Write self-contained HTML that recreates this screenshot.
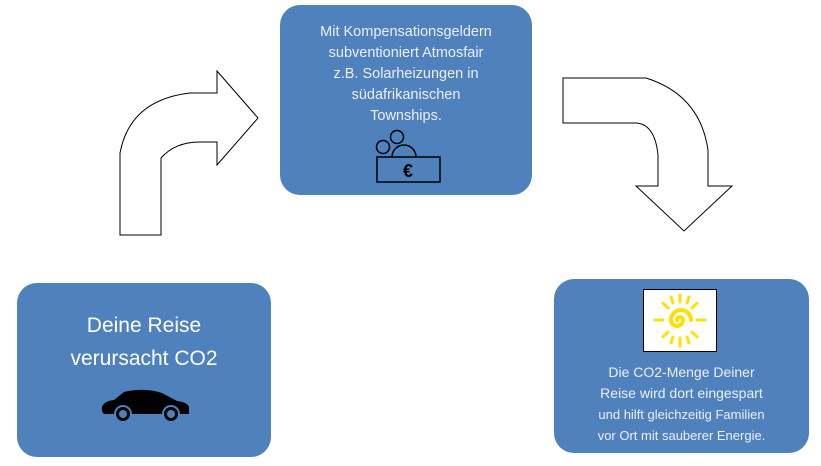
<!DOCTYPE html>
<html><head><style>
body{margin:0;width:821px;height:466px;background:#fff;position:relative;overflow:hidden;font-family:"Liberation Sans",sans-serif;}
.b{position:absolute;background:#4f81bd;border-radius:20px;color:#fff;text-align:center;}
</style></head><body>
<svg width="821" height="466" style="position:absolute;left:0;top:0">
<path d="M120,235 L161,235 L161,158 Q175,142 200,142 L217,142 L217,165 L258,118 L217,71 L217,93 L190,93 Q130,100 120,153 Z" fill="#fff" stroke="#000" stroke-width="1"/>
<path d="M563,78 L646,78 Q700,95 708,150 L708,186 L732,186 L684,231 L636,186 L658,186 L658,155 Q655,125 637,123 L563,123 Z" fill="#fff" stroke="#000" stroke-width="1"/>
</svg>
<div class="b" style="left:280px;top:5px;width:252px;height:190px;">
<div style="margin-top:17px;font-size:14.5px;line-height:21px;color:#eef">Mit Kompensationsgeldern<br>subventioniert Atmosfair<br>z.B. Solarheizungen in<br>südafrikanischen<br>Townships.</div>
<svg width="80" height="60" style="position:absolute;left:90px;top:121px">
<circle cx="13" cy="21" r="6.5" fill="none" stroke="#000" stroke-width="1.5"/>
<circle cx="27" cy="11" r="6.5" fill="none" stroke="#000" stroke-width="1.5"/>
<path d="M22,31 A12,12 0 0 1 46,31" fill="none" stroke="#000" stroke-width="1.5"/>
<rect x="7" y="31" width="63" height="25" fill="none" stroke="#000" stroke-width="1.5"/>
<text x="38" y="51" text-anchor="middle" font-size="18" font-weight="bold" fill="#000" font-family="Liberation Sans">€</text>
</svg>
</div>
<div class="b" style="left:17px;top:283px;width:254px;height:174px;">
<div style="margin-top:26px;font-size:21px;line-height:33px;">Deine Reise<br>verursacht CO2</div>
<svg width="95" height="40" style="position:absolute;left:82px;top:106px">
<path d="M3,18 Q5,12 15,11 L25,3 Q45,-2 63,4 L78,12 Q88,13 90,18 L90,25 L6,25 Q2,24 3,18 Z" fill="#000"/>
<circle cx="24" cy="25" r="8" fill="#000" stroke="#4f81bd" stroke-width="2"/>
<circle cx="72" cy="25" r="8" fill="#000" stroke="#4f81bd" stroke-width="2"/>
<circle cx="24" cy="25" r="4" fill="#4f81bd"/>
<circle cx="72" cy="25" r="4" fill="#4f81bd"/>
</svg>
</div>
<div class="b" style="left:554px;top:279px;width:255px;height:174px;">
<div style="position:absolute;left:89px;top:10px;width:72px;height:61px;background:#fff;border:1px solid #000;">
<svg width="72" height="61"><g stroke="#ffe000" stroke-width="4" fill="none" stroke-linecap="round">
<path d="M36,30 m-3,0 a3,3 0 1 1 6,0 a6,6 0 1 1 -12,0 a10,10 0 1 1 20,0"/>
<g stroke-width="3"><line x1="36" y1="5" x2="36" y2="12"/><line x1="36" y1="48" x2="36" y2="56"/><line x1="11" y1="30" x2="19" y2="30"/><line x1="53" y1="30" x2="61" y2="30"/><line x1="19" y1="13" x2="24" y2="18"/><line x1="48" y1="42" x2="53" y2="47"/><line x1="53" y1="13" x2="48" y2="18"/><line x1="19" y1="47" x2="24" y2="42"/><line x1="27" y1="7" x2="29" y2="13"/><line x1="45" y1="7" x2="43" y2="13"/><line x1="27" y1="53" x2="29" y2="47"/><line x1="45" y1="53" x2="43" y2="47"/></g></g></svg>
</div>
<div style="position:absolute;top:83px;width:100%;font-size:14px;line-height:21px;color:#eef">Die CO2-Menge Deiner<br>Reise wird dort eingespart<br><span style="font-size:13px">und hilft gleichzeitig Familien<br>vor Ort mit sauberer Energie.</span></div>
</div>
</body></html>
